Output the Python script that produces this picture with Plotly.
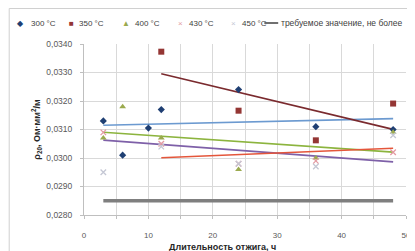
import numpy as np
import plotly.graph_objects as go

# ---------------- data ----------------
series_names = ["300 °C", "350 °C", "400 °C", "430 °C", "450 °C"]
hours_300 = [3, 6, 10, 12, 24, 36, 48]
rho_300 = [0.0313, 0.0301, 0.03105, 0.0317, 0.0324, 0.0311, 0.0310]
hours_350 = [12, 24, 36, 48]
rho_350 = [0.03373, 0.03166, 0.03062, 0.03191]
hours_400 = [3, 6, 12, 24, 36, 48]
rho_400 = [0.0307, 0.0318, 0.0307, 0.0296, 0.0300, 0.0309]
hours_430 = [3, 12, 24, 36, 48]
rho_430 = [0.0309, 0.0305, 0.0298, 0.0299, 0.0302]
hours_450 = [3, 12, 24, 36, 48]
rho_450 = [0.0295, 0.0304, 0.0298, 0.0297, 0.0308]
trend_from = [3, 12, 3, 3, 12]          # first hour used for each linear trend
req_name = "требуемое значение, не более"
req_hours = [3, 48]
req_rho = [0.0285, 0.0285]
x_title = "Длительность отжига, ч"
y_title = "ρ<sub>20</sub>, Ом·мм<sup>2</sup>/м"

# ---------------- styles ----------------
W, H = 415, 251
L, R, T, B = 76, 14, 36, 44
FONT = "Liberation Sans, DejaVu Sans, sans-serif"
marker_colors = ["#1F3F73", "#943634", "#9BAA4E", "#E39AA2", "#C4C7D4"]
marker_symbols = ["diamond", "square", "triangle-up", "x-thin-open", "x-thin-open"]
marker_sizes = [5.5, 6, 6, 5.5, 5.5]
trend_colors = ["#6C9AD0", "#7A2A2E", "#8CB43E", "#7E60A8", "#E4563B"]
legend_glyphs = ["◆", "■", "▲", "×", "×"]

xs = [hours_300, hours_350, hours_400, hours_430, hours_450]
ys = [rho_300, rho_350, rho_400, rho_430, rho_450]

fig = go.Figure()

# required value line
fig.add_trace(go.Scatter(x=req_hours, y=req_rho, mode="lines",
                         line=dict(color="#7F7F7F", width=3.5), showlegend=False))

# trend lines (linear least squares)
for i in range(5):
    x = np.array(xs[i], dtype=float)
    y = np.array(ys[i], dtype=float)
    m = x >= trend_from[i]
    k, b = np.polyfit(x[m], y[m], 1)
    tx = np.array([x[m].min(), x[m].max()])
    fig.add_trace(go.Scatter(x=tx, y=k * tx + b, mode="lines",
                             line=dict(color=trend_colors[i], width=1.6),
                             showlegend=False))

# markers
for i in range(5):
    sym = marker_symbols[i]
    mk = dict(color=marker_colors[i], size=marker_sizes[i], symbol=sym)
    if "open" in sym:
        mk["line"] = dict(color=marker_colors[i], width=1.3)
    fig.add_trace(go.Scatter(x=xs[i], y=ys[i], mode="markers", marker=mk,
                             name=series_names[i], showlegend=False))

pw, ph = W - L - R, H - T - B


def px_to_paper(px, py):
    return (px - L) / pw, (H - B - py) / ph


annotations = []
# manual legend
sym_x = [12, 63, 118, 173, 227]
txt_x = [20, 69, 125, 180, 233]
leg_y = 15
for i in range(5):
    sx, sy = px_to_paper(sym_x[i], leg_y)
    annotations.append(dict(x=sx, y=sy, xref="paper", yref="paper", text=legend_glyphs[i],
                            showarrow=False, xanchor="center", yanchor="middle",
                            font=dict(family=FONT, size=8, color=marker_colors[i])))
    tx, ty = px_to_paper(txt_x[i], leg_y)
    annotations.append(dict(x=tx, y=ty, xref="paper", yref="paper", text=series_names[i],
                            showarrow=False, xanchor="left", yanchor="middle",
                            font=dict(family=FONT, size=8, color="#404040")))
tx, ty = px_to_paper(273, leg_y)
annotations.append(dict(x=tx, y=ty, xref="paper", yref="paper", text=req_name,
                        showarrow=False, xanchor="left", yanchor="middle",
                        font=dict(family=FONT, size=8.5, color="#404040")))
# x-axis title
ax, ay = px_to_paper(216, 239)
annotations.append(dict(x=ax, y=ay, xref="paper", yref="paper", text="<b>" + x_title + "</b>",
                        showarrow=False, xanchor="center", yanchor="middle",
                        font=dict(family=FONT, size=9, color="#262626")))

shapes = []
lx0, ly = px_to_paper(258, leg_y)
lx1, _ = px_to_paper(272, leg_y)
shapes.append(dict(type="line", xref="paper", yref="paper", x0=lx0, x1=lx1, y0=ly, y1=ly,
                   line=dict(color="#404040", width=1.5)))
# chart border
bx0, by0 = px_to_paper(0.5, H - 0.5)
bx1, by1 = px_to_paper(W - 0.5, 0.5)
shapes.append(dict(type="rect", xref="paper", yref="paper", x0=bx0, x1=bx1, y0=by0, y1=by1,
                   line=dict(color="#D0D0D0", width=1)))

fig.update_layout(
    width=W, height=H,
    margin=dict(l=L, r=R, t=T, b=B, pad=0),
    paper_bgcolor="white", plot_bgcolor="white",
    separators=", ",
    showlegend=False,
    annotations=annotations,
    shapes=shapes,
    font=dict(family=FONT, size=8, color="#595959"),
)
fig.update_xaxes(range=[0, 50], dtick=10, tick0=0, showgrid=True, gridcolor="#D9D9D9",
                 gridwidth=1, minor=dict(dtick=5, showgrid=True, gridcolor="#D9D9D9",
                                         ticks="outside", ticklen=3, tickcolor="#BFBFBF"),
                 showline=True, linecolor="#BFBFBF", ticks="outside", ticklen=3,
                 tickcolor="#BFBFBF", zeroline=False, ticklabelstandoff=9,
                 tickfont=dict(family=FONT, size=8, color="#595959"))
fig.update_yaxes(range=[0.0280, 0.0340], dtick=0.001, tick0=0.028, tickformat=".4f",
                 showgrid=True, gridcolor="#D9D9D9", gridwidth=1,
                 showline=True, linecolor="#BFBFBF", ticks="outside", ticklen=3,
                 tickcolor="#BFBFBF", zeroline=False, ticklabelstandoff=6,
                 tickfont=dict(family=FONT, size=8.5, color="#595959"),
                 title=dict(text="<b>" + y_title + "</b>", standoff=4,
                            font=dict(family=FONT, size=9, color="#262626")))

fig.write_html("out.html")
